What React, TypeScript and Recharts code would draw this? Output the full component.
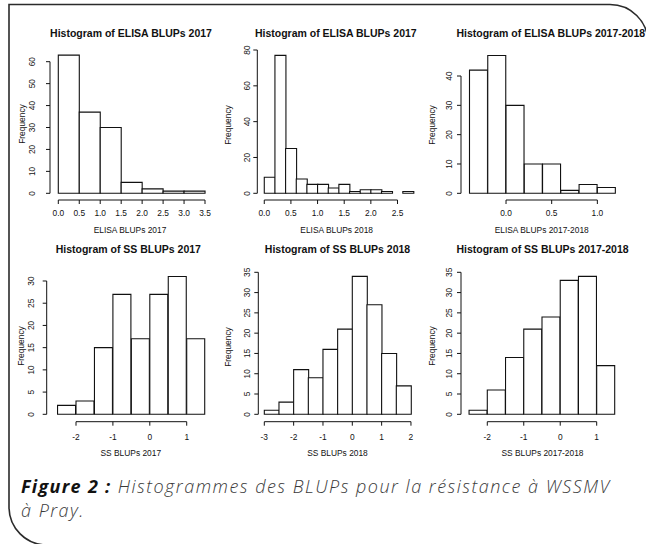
import React from 'react';
import { BarChart, Bar, XAxis, YAxis, ReferenceLine } from 'recharts';

const W = 646;
const H = 544;
const PLOT_FONT = '"Liberation Sans", Arial, Helvetica, sans-serif';
const CAPTION_FONT = '"Open Sans", Lato, sans-serif';

// ---- ELISA BLUPs 2017 ----
const elisa2017Breaks = [0, 0.5, 1, 1.5, 2, 2.5, 3, 3.5];
const elisa2017Counts = [63, 37, 30, 5, 2, 1, 1];
const elisa2017XTicks = [0, 0.5, 1, 1.5, 2, 2.5, 3, 3.5];
const elisa2017YTicks = [0, 10, 20, 30, 40, 50, 60];

// ---- ELISA BLUPs 2018 ----
const elisa2018Breaks = [0, 0.2, 0.4, 0.6, 0.8, 1.0, 1.2, 1.4, 1.6, 1.8, 2.0, 2.2, 2.4, 2.6, 2.8];
const elisa2018Counts = [9, 77, 25, 8, 5, 5, 3, 5, 1, 2, 2, 1, 0, 1];
const elisa2018XTicks = [0, 0.5, 1, 1.5, 2, 2.5];
const elisa2018YTicks = [0, 20, 40, 60, 80];

// ---- ELISA BLUPs 2017-2018 ----
const elisaBothBreaks = [-0.4, -0.2, 0, 0.2, 0.4, 0.6, 0.8, 1.0, 1.2];
const elisaBothCounts = [42, 47, 30, 10, 10, 1, 3, 2];
const elisaBothXTicks = [0, 0.5, 1];
const elisaBothYTicks = [0, 10, 20, 30, 40];

// ---- SS BLUPs 2017 ----
const ss2017Breaks = [-2.5, -2, -1.5, -1, -0.5, 0, 0.5, 1, 1.5];
const ss2017Counts = [2, 3, 15, 27, 17, 27, 31, 17];
const ss2017XTicks = [-2, -1, 0, 1];
const ss2017YTicks = [0, 5, 10, 15, 20, 25, 30];

// ---- SS BLUPs 2018 ----
const ss2018Breaks = [-3, -2.5, -2, -1.5, -1, -0.5, 0, 0.5, 1, 1.5, 2];
const ss2018Counts = [1, 3, 11, 9, 16, 21, 34, 27, 15, 7];
const ss2018XTicks = [-3, -2, -1, 0, 1, 2];
const ss2018YTicks = [0, 5, 10, 15, 20, 25, 30, 35];

// ---- SS BLUPs 2017-2018 ----
const ssBothBreaks = [-2.5, -2, -1.5, -1, -0.5, 0, 0.5, 1, 1.5];
const ssBothCounts = [1, 6, 14, 21, 24, 33, 34, 12];
const ssBothXTicks = [-2, -1, 0, 1];
const ssBothYTicks = [0, 5, 10, 15, 20, 25, 30, 35];

type PanelSpec = {
  title: string;
  xLabel: string;
  breaks: number[];
  counts: number[];
  xTicks: number[];
  yTicks: number[];
  xDecimals: number;
  // plot region [left, top, right, bottom] in page pixels
  plot: [number, number, number, number];
  xDomain: [number, number];
  yDomain: [number, number];
  titleY: number;
  titleX: number;
  xTickGap: number;
  xLabelY: number;
  xLabelX: number;
  yTickGap: number;
  freqX: number;
  freqY: number;
};

const panels: PanelSpec[] = [
  {
    title: 'Histogram of ELISA BLUPs 2017',
    xLabel: 'ELISA BLUPs 2017',
    breaks: elisa2017Breaks,
    counts: elisa2017Counts,
    xTicks: elisa2017XTicks,
    yTicks: elisa2017YTicks,
    xDecimals: 1,
    plot: [50, 50, 210, 200],
    xDomain: [-0.198, 3.619],
    yDomain: [-3.05, 65.33],
    titleX: 131,
    titleY: 33,
    xTickGap: 13.3,
    xLabelX: 130,
    xLabelY: 230,
    yTickGap: 18.3,
    freqX: 21.7,
    freqY: 124,
  },
  {
    title: 'Histogram of ELISA BLUPs 2017',
    xLabel: 'ELISA BLUPs 2018',
    breaks: elisa2018Breaks,
    counts: elisa2018Counts,
    xTicks: elisa2018XTicks,
    yTicks: elisa2018YTicks,
    xDecimals: 1,
    plot: [257.3, 47, 418, 200],
    xDomain: [-0.131, 2.885],
    yDomain: [-3.74, 81.68],
    titleX: 335.8,
    titleY: 33,
    xTickGap: 13.3,
    xLabelX: 336.7,
    xLabelY: 230,
    yTickGap: 10.6,
    freqX: 228.3,
    freqY: 125,
  },
  {
    title: 'Histogram of ELISA BLUPs 2017-2018',
    xLabel: 'ELISA BLUPs 2017-2018',
    breaks: elisaBothBreaks,
    counts: elisaBothCounts,
    xTicks: elisaBothXTicks,
    yTicks: elisaBothYTicks,
    xDecimals: 1,
    plot: [461, 47, 621, 200],
    xDomain: [-0.493, 1.259],
    yDomain: [-2.28, 49.89],
    titleX: 550.8,
    titleY: 33,
    xTickGap: 13.3,
    xLabelX: 541.7,
    xLabelY: 230,
    yTickGap: 11.7,
    freqX: 432,
    freqY: 125,
  },
  {
    title: 'Histogram of SS BLUPs 2017',
    xLabel: 'SS BLUPs 2017',
    breaks: ss2017Breaks,
    counts: ss2017Counts,
    xTicks: ss2017XTicks,
    yTicks: ss2017YTicks,
    xDecimals: 0,
    plot: [46.7, 275, 210, 421.7],
    xDomain: [-2.794, 1.631],
    yDomain: [-1.666, 31.35],
    titleX: 128.3,
    titleY: 249,
    xTickGap: 15,
    xLabelX: 130.8,
    xLabelY: 452.7,
    yTickGap: 16,
    freqX: 20.7,
    freqY: 346,
  },
  {
    title: 'Histogram of SS BLUPs 2018',
    xLabel: 'SS BLUPs 2018',
    breaks: ss2018Breaks,
    counts: ss2018Counts,
    xTicks: ss2018XTicks,
    yTicks: ss2018YTicks,
    xDecimals: 0,
    plot: [258.3, 268, 416, 421.7],
    xDomain: [-3.205, 2.172],
    yDomain: [-1.824, 36.06],
    titleX: 337.5,
    titleY: 249,
    xTickGap: 15,
    xLabelX: 337.5,
    xLabelY: 452.7,
    yTickGap: 11.7,
    freqX: 228.3,
    freqY: 346.7,
  },
  {
    title: 'Histogram of SS BLUPs 2017-2018',
    xLabel: 'SS BLUPs 2017-2018',
    breaks: ssBothBreaks,
    counts: ssBothCounts,
    xTicks: ssBothXTicks,
    yTicks: ssBothYTicks,
    xDecimals: 0,
    plot: [461, 268, 620, 421.7],
    xDomain: [-2.721, 1.639],
    yDomain: [-1.824, 36.06],
    titleX: 542.5,
    titleY: 249,
    xTickGap: 15,
    xLabelX: 542.5,
    xLabelY: 452.7,
    yTickGap: 11.7,
    freqX: 432,
    freqY: 346,
  },
];

const TICK_LEN = 4;
const AXIS_FS = 8.4;
const Y_AXIS_W = 20;
const X_AXIS_H = 20;

function binRows(breaks: number[], counts: number[]) {
  return counts.map((count, i) => ({
    mid: (breaks[i] + breaks[i + 1]) / 2,
    count,
  }));
}

function Histogram({ p }: { p: PanelSpec }) {
  const [L, T, R, B] = p.plot;
  const rows = binRows(p.breaks, p.counts);
  const xFirst = p.xTicks[0];
  const xLast = p.xTicks[p.xTicks.length - 1];
  const yFirst = p.yTicks[0];
  const yLast = p.yTicks[p.yTicks.length - 1];

  const XTick = (props: any) => {
    const { x, y, payload } = props;
    return (
      <text
        x={x}
        y={y}
        textAnchor="middle"
        dominantBaseline="central"
        fontSize={AXIS_FS}
        fontFamily={PLOT_FONT}
        fill="#111"
      >
        {Number(payload.value).toFixed(p.xDecimals)}
      </text>
    );
  };

  const YTick = (props: any) => {
    const { x, y, payload } = props;
    const cx = x - (p.yTickGap - TICK_LEN);
    return (
      <text
        x={cx}
        y={y}
        transform={`rotate(-90 ${cx} ${y})`}
        textAnchor="middle"
        dominantBaseline="central"
        fontSize={AXIS_FS}
        fontFamily={PLOT_FONT}
        fill="#111"
      >
        {payload.value}
      </text>
    );
  };

  return (
    <div style={{ position: 'absolute', left: 0, top: 0 }}>
      <BarChart
        width={W}
        height={H}
        data={rows}
        barCategoryGap={0}
        barGap={0}
        margin={{
          top: T,
          left: L - Y_AXIS_W,
          right: W - R,
          bottom: H - B - X_AXIS_H,
        }}
      >
        <XAxis
          type="number"
          dataKey="mid"
          domain={p.xDomain}
          allowDataOverflow
          ticks={p.xTicks}
          interval={0}
          height={X_AXIS_H}
          axisLine={false}
          tickLine={{ stroke: '#111', strokeWidth: 1 }}
          tickSize={TICK_LEN}
          tickMargin={p.xTickGap - TICK_LEN}
          tick={<XTick />}
        />
        <YAxis
          type="number"
          domain={p.yDomain}
          allowDataOverflow
          ticks={p.yTicks}
          interval={0}
          width={Y_AXIS_W}
          axisLine={false}
          tickLine={{ stroke: '#111', strokeWidth: 1 }}
          tickSize={TICK_LEN}
          tickMargin={0}
          tick={<YTick />}
        />
        <Bar
          dataKey="count"
          fill="#ffffff"
          stroke="#111"
          strokeWidth={1.1}
          isAnimationActive={false}
        />
        <ReferenceLine
          segment={[
            { x: xFirst, y: p.yDomain[0] },
            { x: xLast, y: p.yDomain[0] },
          ]}
          stroke="#111"
          strokeWidth={1}
          ifOverflow="visible"
        />
        <ReferenceLine
          segment={[
            { x: p.xDomain[0], y: yFirst },
            { x: p.xDomain[0], y: yLast },
          ]}
          stroke="#111"
          strokeWidth={1}
          ifOverflow="visible"
        />
      </BarChart>
    </div>
  );
}

function CenteredText({
  x,
  y,
  children,
  style,
  rotate,
}: {
  x: number;
  y: number;
  children: React.ReactNode;
  style?: React.CSSProperties;
  rotate?: boolean;
}) {
  return (
    <div
      style={{
        position: 'absolute',
        left: x,
        top: y,
        transform: `translate(-50%, -50%)${rotate ? ' rotate(-90deg)' : ''}`,
        whiteSpace: 'nowrap',
        lineHeight: 1,
        fontFamily: PLOT_FONT,
        color: '#111',
        ...style,
      }}
    >
      {children}
    </div>
  );
}

const captionLine: React.CSSProperties = {
  position: 'absolute',
  left: 21,
  fontFamily: CAPTION_FONT,
  fontStyle: 'italic',
  fontWeight: 300,
  fontSize: 18,
  letterSpacing: 1.5,
  lineHeight: '24px',
  height: 24,
  color: '#3a3a3a',
  whiteSpace: 'nowrap',
};

export default function App() {
  return (
    <div
      style={{
        position: 'absolute',
        left: 0,
        top: 0,
        width: W,
        height: H,
        background: '#fff',
        overflow: 'hidden',
      }}
    >
      {panels.map((p, i) => (
        <React.Fragment key={i}>
          <Histogram p={p} />
          <CenteredText x={p.titleX} y={p.titleY} style={{ fontSize: 10.5, fontWeight: 700 }}>
            {p.title}
          </CenteredText>
          <CenteredText x={p.xLabelX} y={p.xLabelY} style={{ fontSize: AXIS_FS }}>
            {p.xLabel}
          </CenteredText>
          <CenteredText x={p.freqX} y={p.freqY} rotate style={{ fontSize: AXIS_FS }}>
            Frequency
          </CenteredText>
        </React.Fragment>
      ))}

      <svg
        width={W}
        height={H}
        style={{ position: 'absolute', left: 0, top: 0, pointerEvents: 'none' }}
      >
        <path
          d="M 648 42 A 38 38 0 0 0 610 4.5 L 9 4.5 L 9 507 A 38 38 0 0 0 47 545"
          fill="none"
          stroke="#2b2b2b"
          strokeWidth={1.6}
        />
      </svg>

      <div style={{ ...captionLine, top: 473.5 }}>
        <span style={{ fontWeight: 700, color: '#111', letterSpacing: 1.3 }}>Figure 2 :</span>{' '}
        Histogrammes des BLUPs pour la résistance à WSSMV
      </div>
      <div style={{ ...captionLine, top: 497.5 }}>à Pray.</div>
    </div>
  );
}
